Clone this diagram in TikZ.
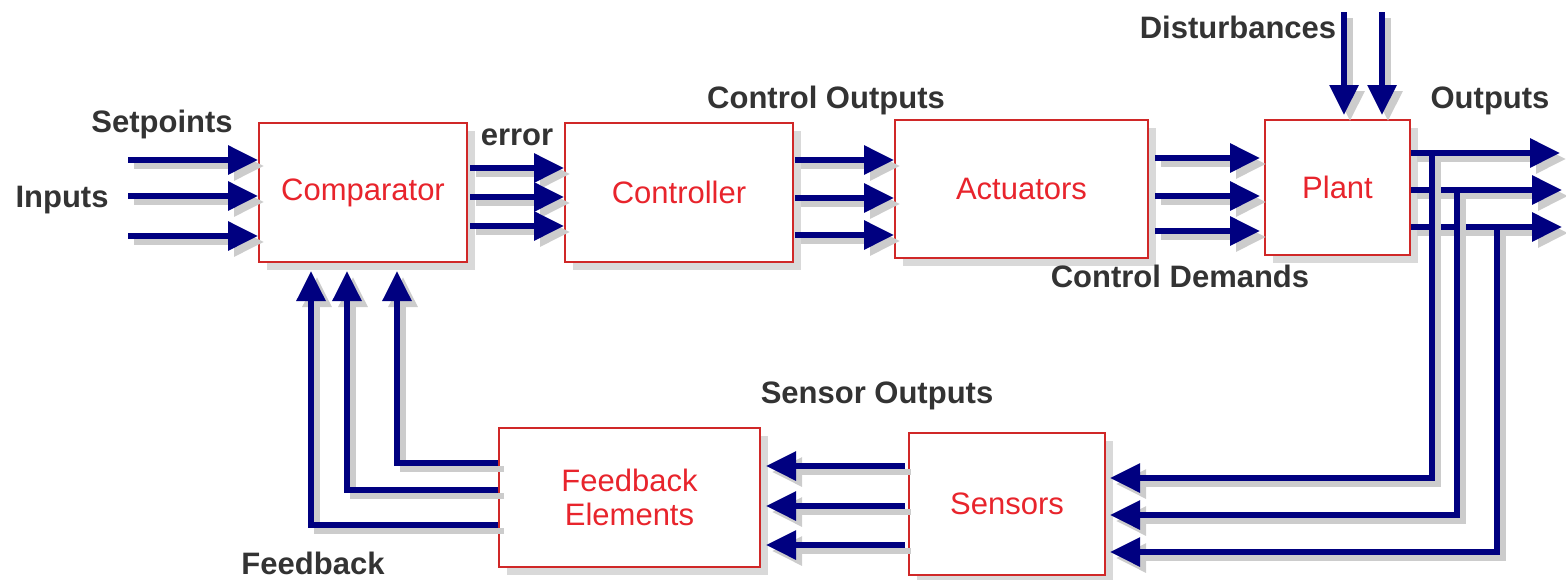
\documentclass[tikz,border=0pt]{standalone}
\usepackage{fontspec}
\setmainfont{Liberation Sans}
\usetikzlibrary{arrows.meta,shadows,calc}
\definecolor{navy}{HTML}{000080}
\definecolor{boxred}{HTML}{D02828}
\definecolor{txtred}{HTML}{E8242C}
\definecolor{lbl}{HTML}{333333}
\tikzset{
  blk/.style={draw=boxred, line width=1pt, fill=white, text=txtred,
    font=\fontsize{15.5}{17}\selectfont, align=center, inner sep=0pt,
    drop shadow={opacity=0.3, shadow xshift=4pt, shadow yshift=-4pt}},
  lab/.style={text=lbl, font=\fontsize{15.5}{17}\selectfont\bfseries, inner sep=0pt},
  arr/.style={draw=navy, line width=3pt, -{Triangle[length=15pt,width=14pt]},
    preaction={draw=black!20, line width=3pt, -{Triangle[length=15pt,width=14pt]},
      transform canvas={shift={(3pt,-3pt)}}}},
  ln/.style={draw=navy, line width=3pt,
    preaction={draw=black!20, line width=3pt, transform canvas={shift={(3pt,-3pt)}}}}
}
\begin{document}
\begin{tikzpicture}[x=0.5pt,y=-0.5pt]
\useasboundingbox (0,0) rectangle (1566,579);
% boxes
\node[blk, minimum width=104pt, minimum height=69.5pt] (cmp) at (363,192.5) {Comparator};
\node[blk, minimum width=114pt, minimum height=69.5pt] (ctl) at (679,192.5) {Controller};
\node[blk, minimum width=126.5pt, minimum height=69pt] (act) at (1021.5,189) {Actuators};
\node[blk, minimum width=72.5pt, minimum height=67.5pt] (plt) at (1337.5,187.5) {Plant};
\node[blk, minimum width=130.5pt, minimum height=69.5pt] (fb) at (629.5,497.5) {Feedback\\Elements};
\node[blk, minimum width=98pt, minimum height=71pt] (sen) at (1007,504) {Sensors};
% labels
\node[lab] (lsp) at (162,124) {Setpoints};
\node[lab] (lin) at (62,200) {Inputs};
\node[lab] (ler) at (517,137) {error};
\node[lab] (lco) at (826,100) {Control Outputs};
\node[lab] (ldi) at (1238,27) {Disturbances};
\node[lab] (lou) at (1490,101) {Outputs};
\node[lab] (lcd) at (1180,276) {Control Demands};
\node[lab] (lso) at (877,396) {Sensor Outputs};
\node[lab] (lfb) at (313,563) {Feedback};
% coordinates
\coordinate (i1) at (128,160);
\coordinate (i2) at (128,196);
\coordinate (i3) at (128,236);
\coordinate (e1) at (470,168);
\coordinate (e2) at (470,197);
\coordinate (e3) at (470,226);
\coordinate (c1) at (795,160);
\coordinate (c2) at (795,198);
\coordinate (c3) at (795,235);
\coordinate (d1) at (1155,158);
\coordinate (d2) at (1155,196);
\coordinate (d3) at (1155,231);
\coordinate (t1) at (1344,12);
\coordinate (t2) at (1382,12);
\coordinate (o1) at (1560,153);
\coordinate (o2) at (1562,190);
\coordinate (o3) at (1562,227);
\coordinate (v1) at (1432,153);
\coordinate (v2) at (1457,190);
\coordinate (v3) at (1497,227);
\coordinate (s1) at (0,478);
\coordinate (s2) at (0,515);
\coordinate (s3) at (0,552);
\coordinate (r1) at (905,466);
\coordinate (r2) at (905,506);
\coordinate (r3) at (905,545);
\coordinate (f1) at (0,463);
\coordinate (f2) at (0,490);
\coordinate (f3) at (0,525);
\coordinate (k1) at (397,0);
\coordinate (k2) at (347,0);
\coordinate (k3) at (311,0);
% input arrows
\foreach \i in {i1,i2,i3} \draw[arr] (\i) -- (\i -| cmp.west);
\foreach \i in {e1,e2,e3} \draw[arr] (\i) -- (\i -| ctl.west);
\foreach \i in {c1,c2,c3} \draw[arr] (\i) -- (\i -| act.west);
\foreach \i in {d1,d2,d3} \draw[arr] (\i) -- ([xshift=-2pt]\i -| plt.west);
\foreach \i in {t1,t2} \draw[arr] (\i) -- ([yshift=2pt]\i |- plt.north);
% outputs
\foreach \i in {o1,o2,o3} \draw[arr] (\i -| plt.east) -- (\i);
% return to sensors
\draw[arr] (v1) |- ([xshift=2pt]sen.east |- s1);
\draw[arr] (v2) |- ([xshift=2pt]sen.east |- s2);
\draw[arr] (v3) |- ([xshift=2pt]sen.east |- s3);
% sensors to feedback
\foreach \i in {r1,r2,r3} \draw[arr] (\i) -- ([xshift=2.5pt]\i -| fb.east);
% feedback to comparator
\draw[arr] (fb.west |- f1) -| ([yshift=-4pt]k1 |- cmp.south);
\draw[arr] (fb.west |- f2) -| ([yshift=-4pt]k2 |- cmp.south);
\draw[arr] (fb.west |- f3) -| ([yshift=-4pt]k3 |- cmp.south);
\end{tikzpicture}
\end{document}
